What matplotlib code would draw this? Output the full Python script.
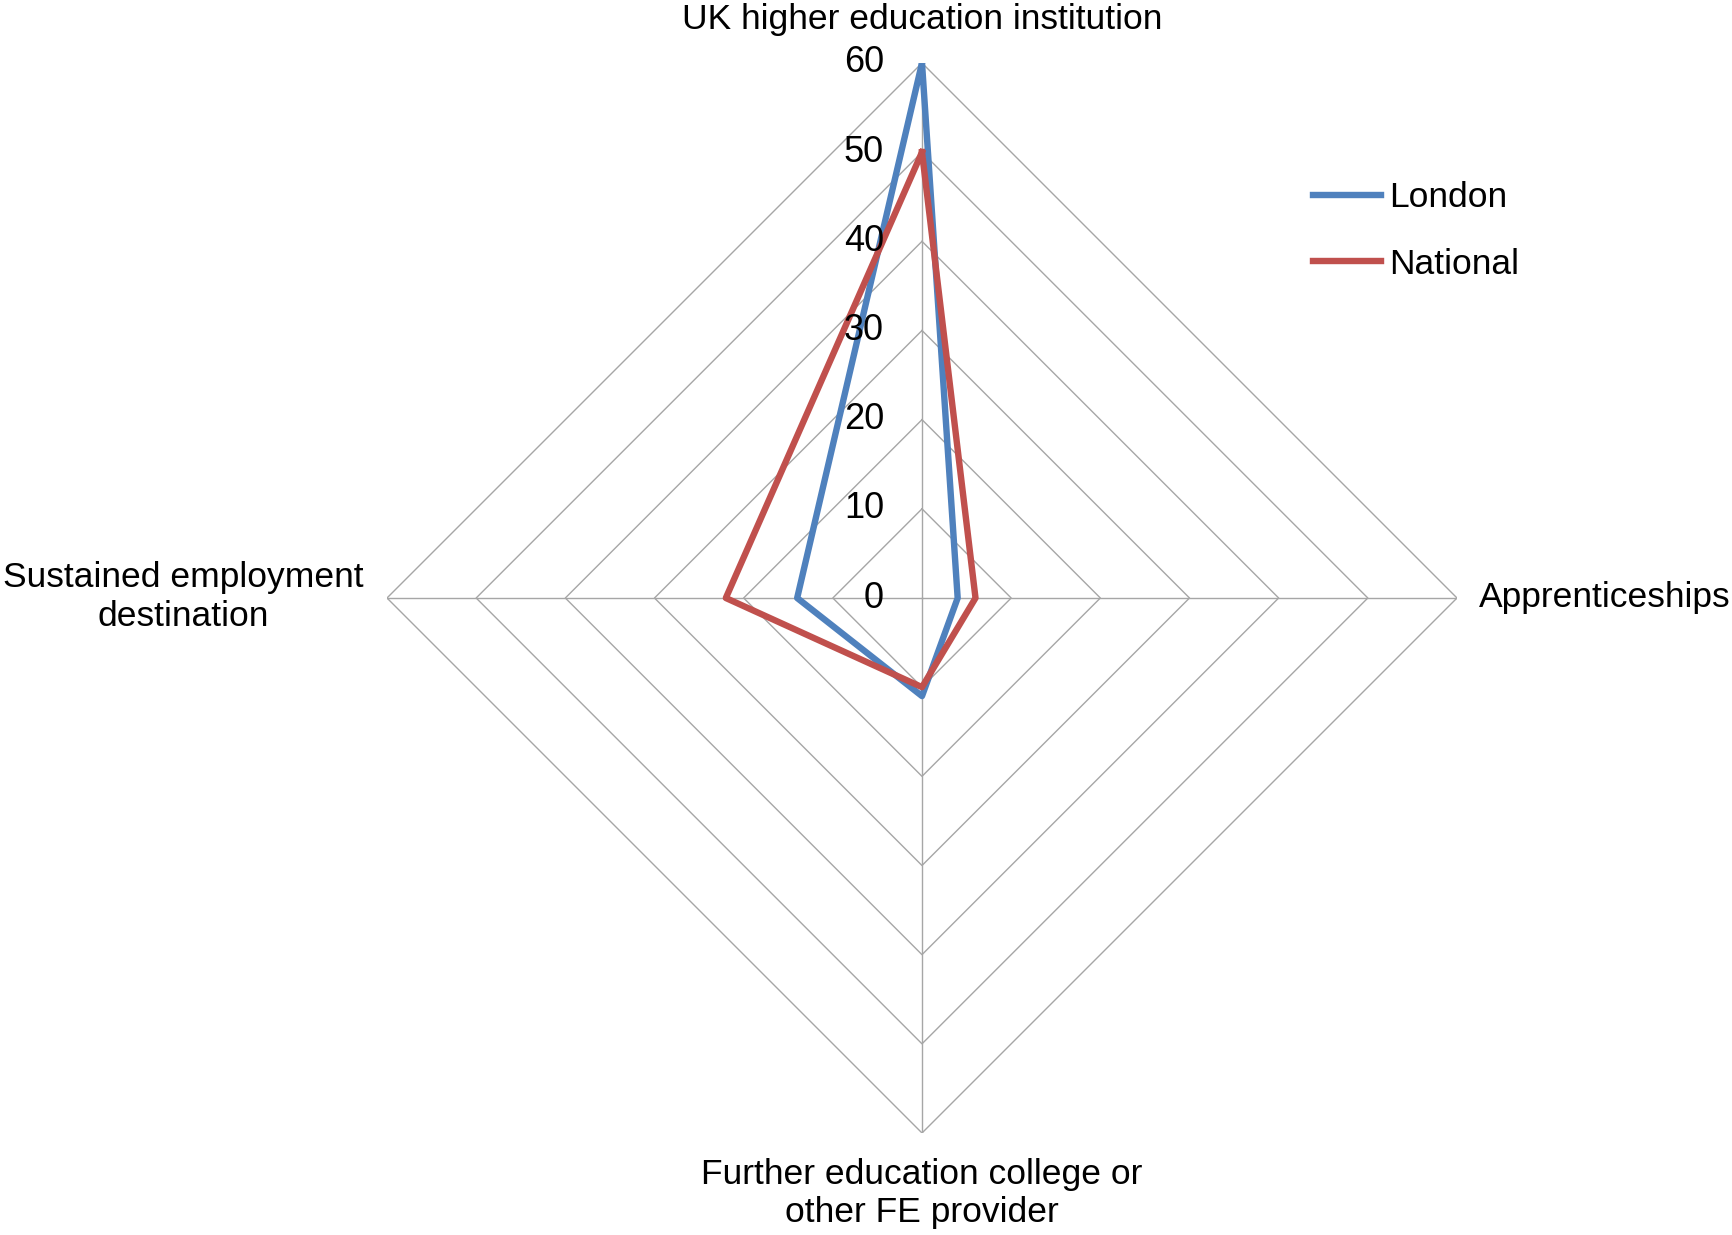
import numpy as np
import matplotlib.pyplot as plt
from matplotlib.transforms import offset_copy

plt.rcParams['font.family'] = ['Liberation Sans', 'DejaVu Sans']

# Datos
categorias = ["UK higher education institution", "Apprenticeships",
              "Further education college or\nother FE provider",
              "Sustained employment\ndestination"]
london = [60, 4, 11, 14]
national = [50, 6, 10, 22]
anillos = [0, 10, 20, 30, 40, 50, 60]

W, H = 1733, 1235
fig = plt.figure(figsize=(W / 100, H / 100), dpi=100)
cx, cy, rad = 922, 598, 535
ax = fig.add_axes([(cx - rad) / W, 1 - (cy + rad) / H, 2 * rad / W, 2 * rad / H],
                  projection='polar')
ax.set_theta_zero_location('N')
ax.set_theta_direction(-1)
ax.set_ylim(0, 60)
ax.grid(False)
ax.set_xticks([])
ax.set_yticks([])
ax.spines['polar'].set_visible(False)
ax.patch.set_visible(False)

ang = np.deg2rad(np.arange(len(categorias)) * 360 / len(categorias))
ang_c = np.append(ang, ang[0])

# Rejilla poligonal
gris = '#A6A6A6'
for r in anillos[1:]:
    ax.plot(ang_c, [r] * len(ang_c), color=gris, lw=1.0, zorder=1)
for a in ang:
    ax.plot([a, a], [0, 60], color=gris, lw=1.0, zorder=1)

# Series
ax.plot(ang_c, london + london[:1], color='#4F81BD', lw=4.6, label='London',
        zorder=3, solid_joinstyle='round')
ax.plot(ang_c, national + national[:1], color='#C0504D', lw=4.6, label='National',
        zorder=3, solid_joinstyle='round')

# Etiquetas del eje radial
trans = offset_copy(ax.transData, fig=fig, x=-38, y=0, units='dots')
for r in anillos:
    ax.text(0, r, str(r), transform=trans, ha='right', va='center', fontsize=26)

# Etiquetas de categorias
fs = 25.5
fig.text(cx / W, 1 - 20 / H, categorias[0], ha='center', va='center', fontsize=fs)
fig.text(1479 / W, 1 - 598 / H, categorias[1], ha='left', va='center', fontsize=fs)
fig.text(cx / W, 1 - 1158 / H, categorias[2], ha='center', va='top', fontsize=fs,
         linespacing=1.2)
fig.text(183 / W, 1 - 597 / H, categorias[3], ha='center', va='center', fontsize=fs,
         linespacing=1.2)

fig.legend(loc='center left', bbox_to_anchor=(1313 / W, 1 - 231 / H), frameon=False,
           fontsize=fs, handlelength=1.92, handletextpad=0.23, labelspacing=0.95,
           borderpad=0, borderaxespad=0)

fig.savefig("out.png", dpi=100, facecolor='white')
